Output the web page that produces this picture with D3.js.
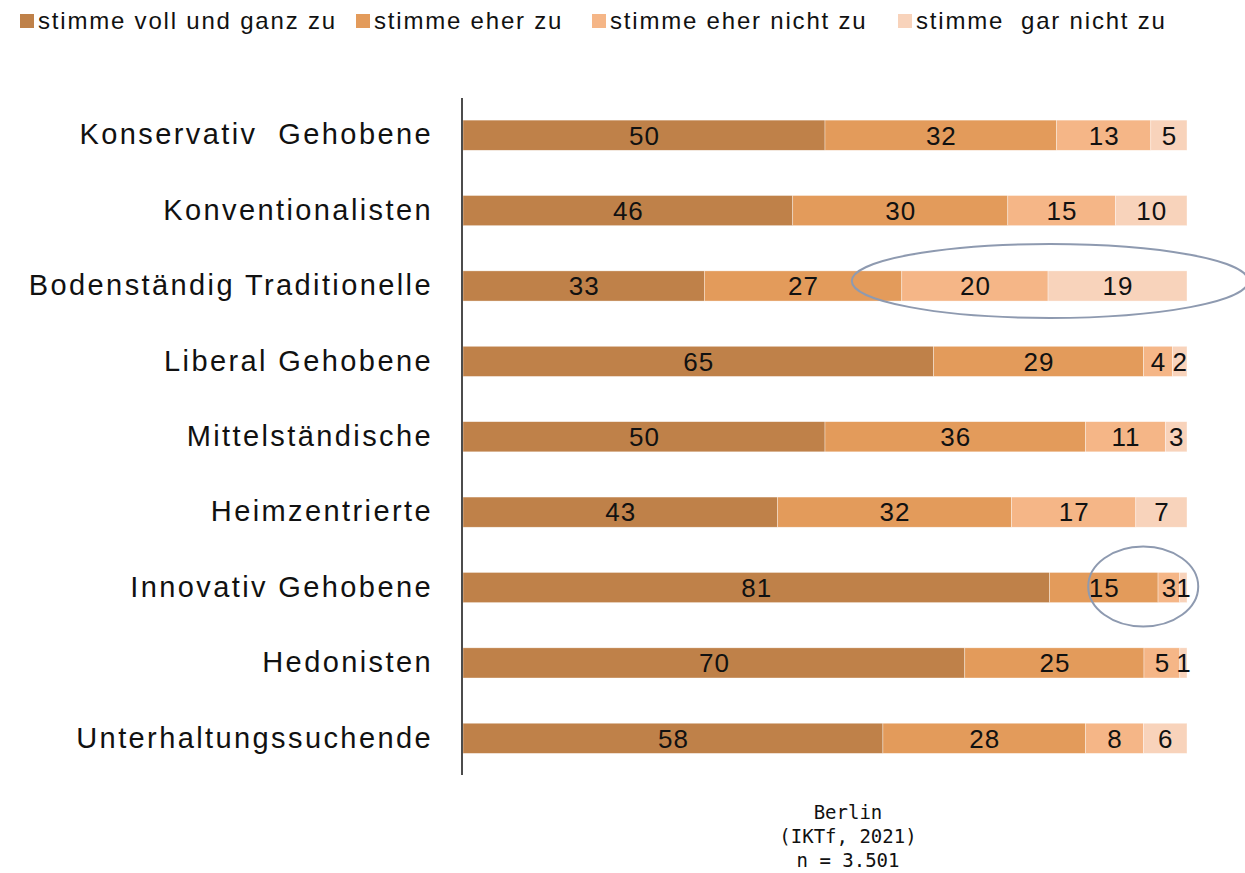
<!DOCTYPE html>
<html><head><meta charset="utf-8">
<script src="https://cdn.jsdelivr.net/npm/d3@7"></script>
<style>body{margin:0;background:#fff}svg{display:block}</style>
</head><body>
<svg id="c" width="1245" height="873"></svg>
<script>
const categories = ["Konservativ  Gehobene","Konventionalisten","Bodenständig Traditionelle","Liberal Gehobene","Mittelständische","Heimzentrierte","Innovativ Gehobene","Hedonisten","Unterhaltungssuchende"];
const seriesNames = ["stimme voll und ganz zu","stimme eher zu","stimme eher nicht zu","stimme  gar nicht zu"];
const vollUndGanz = [50,46,33,65,50,43,81,70,58];
const eherZu = [32,30,27,29,36,32,15,25,28];
const eherNicht = [13,15,20,4,11,17,3,5,8];
const garNicht = [5,10,19,2,3,7,1,1,6];
const colors = ["#bf8149","#e39b5b","#f5b687","#f8d3bb"];
const footnote = ["Berlin","(IKTf, 2021)","n = 3.501"];

const FONT = "Liberation Sans, Arial, sans-serif";
const svg = d3.select("#c");
const series = [vollUndGanz, eherZu, eherNicht, garNicht];
const rows = categories.map((c,i)=>{
  const vals = series.map(s=>s[i]);
  const tot = d3.sum(vals);
  let cum = 0;
  return {cat:c, segs: vals.map((v,k)=>{const s={k,v,x0:cum/tot*100,x1:(cum+v)/tot*100}; cum+=v; return s;})};
});

const x = d3.scaleLinear().domain([0,100]).range([463,1187]);
const y = d3.scaleBand().domain(categories).range([97.5,776]).paddingInner(0.6).paddingOuter(0.3);

// legend
const legX = [20,356,592,898];
const leg = svg.append("g");
seriesNames.forEach((n,i)=>{
  leg.append("rect").attr("x",legX[i]).attr("y",14).attr("width",14).attr("height",14).attr("fill",colors[i]);
  leg.append("text").attr("x",legX[i]+18).attr("y",21).attr("dy","0.35em")
    .attr("font-family",FONT).attr("font-size",24).attr("letter-spacing",1.8).attr("fill","#111")
    .attr("xml:space","preserve").style("white-space","pre").text(n);
});

// bars
const g = svg.append("g");
rows.forEach(r=>{
  const yy = y(r.cat);
  r.segs.forEach(s=>{
    g.append("rect").attr("x",x(s.x0)).attr("y",yy).attr("width",x(s.x1)-x(s.x0)).attr("height",y.bandwidth())
      .attr("fill",colors[s.k]).attr("stroke","#fff").attr("stroke-width",0.6).attr("stroke-opacity",0.6);
    g.append("text").attr("x",(x(s.x0)+x(s.x1))/2+0.5).attr("y",yy+y.bandwidth()/2).attr("dy","0.36em")
      .attr("text-anchor","middle").attr("font-family",FONT).attr("font-size",26).attr("letter-spacing",1)
      .attr("fill","#111").text(s.v);
  });
});

// category axis
const ax = svg.append("g").attr("transform","translate(462,0)").call(d3.axisLeft(y).tickSize(0).tickPadding(29));
ax.select(".domain").attr("stroke","#111").attr("stroke-width",1.5).attr("d","M0,98V775");
ax.selectAll("text").attr("font-family",FONT).attr("font-size",29).attr("letter-spacing",2.4).attr("fill","#111")
  .attr("xml:space","preserve").style("white-space","pre");

// annotation ellipses
const r3 = rows[2], r7 = rows[6];
svg.append("ellipse").attr("cx",x(r3.segs[3].x0)+2).attr("cy",y(r3.cat)+y.bandwidth()/2-5)
  .attr("rx",x(r3.segs[3].x0)-x(r3.segs[2].x0)+52).attr("ry",37)
  .attr("fill","none").attr("stroke","#8e9ab0").attr("stroke-width",2);
svg.append("ellipse").attr("cx",(x(r7.segs[1].x0)+x(r7.segs[3].x1))/2+25).attr("cy",y(r7.cat)+y.bandwidth()/2-1)
  .attr("rx",55).attr("ry",40)
  .attr("fill","none").attr("stroke","#8e9ab0").attr("stroke-width",2);

// footnote
footnote.forEach((t,i)=>{
  svg.append("text").attr("x",848).attr("y",812+i*24).attr("dy","0.35em").attr("text-anchor","middle")
    .attr("font-family","DejaVu Sans Mono, Liberation Mono, monospace").attr("font-size",19).attr("fill","#111").text(t);
});
</script>
</body></html>
